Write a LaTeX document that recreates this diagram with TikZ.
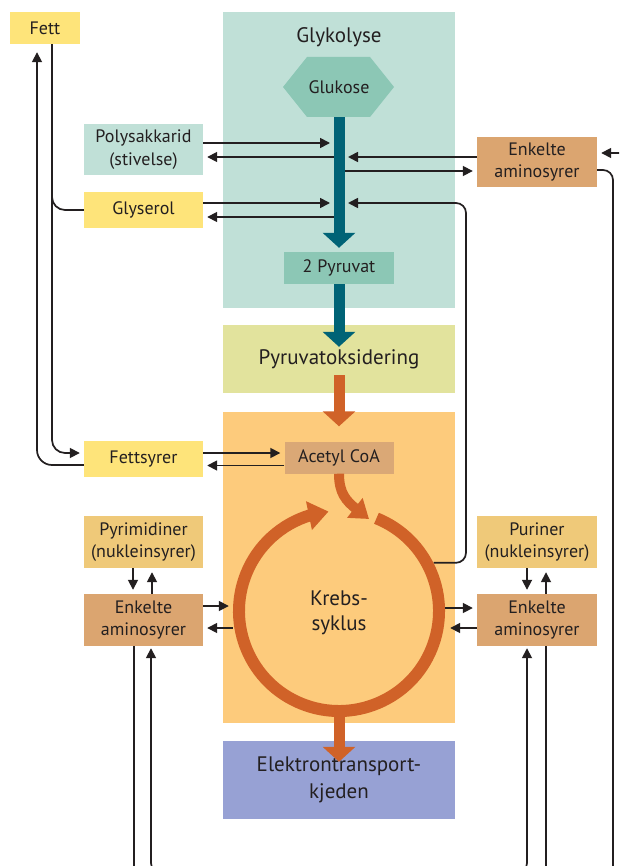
\documentclass[tikz,border=0pt]{standalone}
\usepackage{fontspec}
\setmainfont{PT Sans}
\usetikzlibrary{arrows.meta,bending}
\definecolor{glykbg}{RGB}{192,224,215}
\definecolor{hexc}{RGB}{140,199,181}
\definecolor{tealbar}{RGB}{0,99,118}
\definecolor{poxbg}{RGB}{226,227,157}
\definecolor{krebsbg}{RGB}{253,203,124}
\definecolor{orng}{RGB}{208,98,40}
\definecolor{acetc}{RGB}{218,168,118}
\definecolor{aminoc}{RGB}{219,165,112}
\definecolor{yel}{RGB}{254,228,122}
\definecolor{tanc}{RGB}{239,201,121}
\definecolor{etcbg}{RGB}{151,161,212}
\definecolor{txt}{RGB}{35,31,32}
\newcommand\ftitle{\fontsize{21}{25}\selectfont}
\newcommand\fbx{\fontsize{18}{22.5}\selectfont}
\tikzset{
 conn/.style={draw=txt, line width=1.7pt},
 arr/.style={conn, -{Triangle[length=10pt,width=10pt]}, shorten >=4pt},
 sbox/.style={fill=#1, minimum width=119pt, inner sep=0pt, align=center, text=txt, font=\fbx},
 panel/.style={fill=#1, minimum width=232pt, inner sep=0pt, align=center, text=txt, font=\ftitle},
 tealarr/.style={draw=tealbar, line width=11pt, -{Triangle[width=32pt,length=15pt]}, shorten >=4pt},
 orarr/.style={draw=orng, line width=11pt, -{Triangle[width=32pt,length=15pt]}},
}
\begin{document}
\begin{tikzpicture}[x=1pt,y=-1pt]
\useasboundingbox (0,0) rectangle (619,866);
\clip (0,0) rectangle (619,866);
% panels
\node[panel=glykbg, minimum height=296pt] (glyk) at (339,160) {};
\node[text=txt, font=\ftitle, inner sep=0pt] (glyktitle) at (339,37) {Glykolyse};
\fill[hexc] (283,87) -- (307,57) -- (370,57) -- (394,87) -- (370,117) -- (307,117) -- cycle;
\node[text=txt, font=\fbx, minimum width=110pt, minimum height=60pt, inner sep=0pt] (gluk) at (339,87) {Glukose};
\node[sbox=hexc, minimum width=110pt, minimum height=32pt] (pyr) at (339,268) {2 Pyruvat};
\node[panel=poxbg, minimum height=68pt] (pox) at (339,359) {Pyruvatoksidering};
\node[panel=krebsbg, minimum height=311pt] (krebsp) at (339,567) {};
\node[sbox=acetc, minimum width=109pt, minimum height=32pt] (acetyl) at (339,457.5) {Acetyl CoA};
\node[panel=etcbg, minimum height=78pt, font=\fontsize{21}{27}\selectfont] (etc) at (339,780) {Elektrontransport-\\kjeden};
\node[circle, minimum size=212pt, inner sep=0pt] (kc) at (339,611) {};
\node[text=txt, font=\ftitle, align=center, inner sep=0pt] (ktext) at (339,613) {Krebs-\\syklus};
% side boxes
\node[sbox=yel, minimum width=70pt, minimum height=32pt] (fett) at (45,28) {Fett};
\node[sbox=glykbg, minimum height=51pt] (poly) at (143.5,149.5) {Polysakkarid\\(stivelse)};
\node[sbox=yel, minimum height=36pt] (glys) at (143.5,210) {Glyserol};
\node[sbox=yel, minimum height=36pt] (fsyr) at (143.5,459) {Fettsyrer};
\node[sbox=tanc, minimum height=52pt] (pyrim) at (143.5,542) {Pyrimidiner\\(nukleinsyrer)};
\node[sbox=aminoc, minimum height=52pt] (aminoL) at (143.5,620) {Enkelte\\aminosyrer};
\node[sbox=aminoc, minimum width=120pt, minimum height=50pt] (aminoT) at (537,162) {Enkelte\\aminosyrer};
\node[sbox=tanc, minimum width=120pt, minimum height=52pt] (purin) at (537,542) {Puriner\\(nukleinsyrer)};
\node[sbox=aminoc, minimum width=120pt, minimum height=52pt] (aminoR) at (537,620) {Enkelte\\aminosyrer};
% helper coordinates
\coordinate (bar) at (339,0);
\coordinate (fl) at (37,0);
\coordinate (fr) at (52,0);
\coordinate (vx) at (466,0);
\coordinate (farR) at (613,885);
\coordinate (offR) at (630,153);
\coordinate (bot) at (0,885);
\coordinate (bot2) at (0,875);
% thin connectors at the glycolysis bar
\draw[arr, shorten >=9pt] ([yshift=6.5pt]poly.east) -- ([yshift=6.5pt]poly.east -| bar);
\draw[arr] ([yshift=-7.5pt]poly.east -| bar) -- ([yshift=-7.5pt]poly.east);
\draw[arr, shorten >=9pt] ([yshift=7pt]glys.east) -- ([yshift=7pt]glys.east -| bar);
\draw[arr] ([yshift=-7pt]glys.east -| bar) -- ([yshift=-7pt]glys.east);
\draw[arr, shorten >=9pt] ([yshift=5pt]aminoT.west) -- ([yshift=5pt]aminoT.west -| bar);
\draw[arr] ([yshift=-9pt]aminoT.west -| bar) -- ([yshift=-9pt]aminoT.west);
\draw[arr] (offR) -- ([yshift=9pt]aminoT.east);
\draw[conn, rounded corners=10pt] ([yshift=-8pt]aminoT.east) -- ([yshift=-8pt]aminoT.east -| farR) -- (farR);
\draw[arr, shorten >=9pt, rounded corners=10pt] (kc.27) -- (kc.27 -| vx) -- ([yshift=7pt]glys.east -| vx) -- ([yshift=7pt]glys.east -| bar);
% fat connectors
\draw[arr, rounded corners=13pt] (fett.south -| fr) -- ([yshift=6pt]fsyr.west -| fr) -- ([yshift=6pt]fsyr.west);
\draw[conn, rounded corners=13pt] ([yshift=20pt]glys.west -| fr) -- (glys.west -| fr) -- (glys.west);
\draw[arr, shorten >=8pt, rounded corners=15pt] ([yshift=-6pt]fsyr.west) -- ([yshift=-6pt]fsyr.west -| fl) -- (fett.south -| fl);
\draw[arr] ([yshift=6pt]fsyr.east) -- ([yshift=6pt]fsyr.east -| acetyl.west);
\draw[arr] ([yshift=-8pt]acetyl.west) -- ([yshift=-8pt]acetyl.west -| fsyr.east);
% nucleic / amino connectors
\draw[arr] ([xshift=-10.5pt]pyrim.south) -- ([xshift=-10.5pt]aminoL.north);
\draw[arr] ([xshift=8.5pt]aminoL.north) -- ([xshift=8.5pt]pyrim.south);
\draw[arr] ([yshift=14pt]aminoL.east) -- ([yshift=14pt]aminoL.east -| kc.west);
\draw[arr] ([yshift=-8pt]aminoL.east -| kc.west) -- ([yshift=-8pt]aminoL.east);
\draw[arr] ([xshift=-10pt]purin.south) -- ([xshift=-10pt]aminoR.north);
\draw[arr] ([xshift=9pt]aminoR.north) -- ([xshift=9pt]purin.south);
\draw[arr] ([yshift=12pt]aminoR.west -| kc.east) -- ([yshift=12pt]aminoR.west);
\draw[arr, shorten >=5pt] ([yshift=-8pt]aminoR.west) -- ([yshift=-8pt]aminoR.west -| kc.east);
% lines leaving at the bottom
\draw[conn] ([xshift=-9.5pt]aminoL.south) -- ([xshift=-9.5pt]aminoL.south |- bot);
\draw[conn] ([xshift=9pt]aminoR.south) -- ([xshift=9pt]aminoR.south |- bot);
\draw[conn, {Triangle[length=10pt,width=10pt]}-{Triangle[length=10pt,width=10pt]}, shorten <=2pt, shorten >=2pt, rounded corners=12pt]
  ([xshift=7.5pt]aminoL.south) -- ([xshift=7.5pt]aminoL.south |- bot2) -- ([xshift=-10pt]aminoR.south |- bot2) -- ([xshift=-10pt]aminoR.south);
% thick pathway arrows
\draw[tealarr] (gluk.south) -- (pyr.north);
\draw[tealarr, shorten >=0pt] (pyr.south) -- ([yshift=-22pt]pox.north);
\draw[orarr] ([yshift=-16pt]pox.center) -- ([yshift=-15pt]krebsp.north);
\draw[orarr] ([yshift=-100pt]kc.center) -- ([yshift=-21pt]etc.north);
\draw[draw=orng, line width=10pt, -{Triangle[width=24pt,length=18pt]}] (acetyl.south) .. controls (339,500) and (352,505) .. (369,519);
\draw[draw=orng, line width=12pt, -{Triangle[width=28pt,length=20pt]}] ([shift={(-68:100)}]kc.center) arc[start angle=-68, end angle=264, radius=100];
\end{tikzpicture}
\end{document}
